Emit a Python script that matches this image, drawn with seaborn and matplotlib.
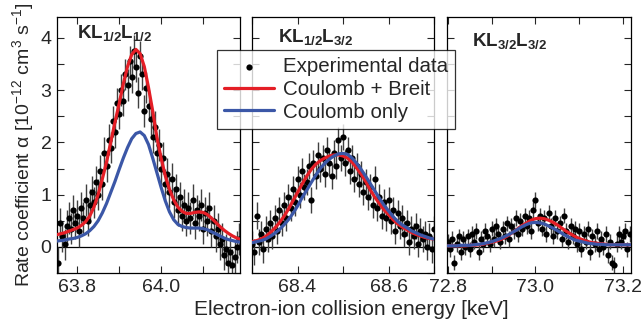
import numpy as np
import matplotlib
matplotlib.use("Agg")
import matplotlib.pyplot as plt
from matplotlib.ticker import MultipleLocator, FixedLocator
import seaborn as sns

# ---- theory curves (sampled every 0.01 keV) ----
p1_curve_e = np.round(np.arange(63.75, 64.195, 0.01), 3)
p1_breit = [0.23, 0.25, 0.27, 0.30, 0.33, 0.36, 0.41, 0.48, 0.59, 0.76,
            1.00, 1.30, 1.62, 2.00, 2.38, 2.74, 3.12, 3.45, 3.68, 3.78,
            3.70, 3.45, 3.05, 2.60, 2.10, 1.70, 1.36, 1.10, 0.90, 0.76,
            0.68, 0.64, 0.64, 0.66, 0.67, 0.66, 0.62, 0.55, 0.47, 0.39,
            0.32, 0.26, 0.21, 0.17, 0.14]
p1_coul = [0.11, 0.12, 0.13, 0.15, 0.16, 0.18, 0.21, 0.25, 0.31, 0.39,
           0.50, 0.65, 0.83, 1.04, 1.25, 1.48, 1.70, 1.90, 2.07, 2.17,
           2.20, 2.13, 1.96, 1.70, 1.42, 1.14, 0.88, 0.67, 0.52, 0.43,
           0.39, 0.37, 0.36, 0.36, 0.36, 0.35, 0.33, 0.29, 0.25, 0.21,
           0.17, 0.14, 0.12, 0.10, 0.09]

p2_curve_e = np.round(np.arange(68.30, 68.705, 0.01), 3)
p2_breit = [0.10, 0.12, 0.15, 0.20, 0.27, 0.36, 0.46, 0.58, 0.72, 0.88,
            1.04, 1.20, 1.35, 1.48, 1.58, 1.65, 1.70, 1.74, 1.76, 1.76,
            1.74, 1.70, 1.62, 1.51, 1.39, 1.25, 1.09, 0.95, 0.83, 0.71,
            0.62, 0.52, 0.44, 0.38, 0.33, 0.28, 0.24, 0.21, 0.18, 0.16,
            0.15]
p2_coul = [0.08, 0.10, 0.12, 0.15, 0.20, 0.26, 0.33, 0.42, 0.52, 0.64,
           0.78, 0.94, 1.08, 1.23, 1.37, 1.50, 1.60, 1.68, 1.74, 1.78,
           1.79, 1.77, 1.70, 1.60, 1.48, 1.35, 1.21, 1.07, 0.93, 0.80,
           0.69, 0.58, 0.49, 0.42, 0.37, 0.31, 0.27, 0.23, 0.20, 0.17,
           0.15]

p3_curve_e = np.round(np.arange(72.80, 73.225, 0.01), 3)
p3_breit = [0.02, 0.02, 0.02, 0.02, 0.02, 0.03, 0.03, 0.04, 0.05, 0.07,
            0.09, 0.11, 0.14, 0.18, 0.23, 0.29, 0.35, 0.41, 0.46, 0.51,
            0.54, 0.55, 0.54, 0.51, 0.47, 0.42, 0.36, 0.30, 0.25, 0.20,
            0.16, 0.13, 0.10, 0.08, 0.07, 0.06, 0.05, 0.04, 0.04, 0.04,
            0.04, 0.04, 0.04]
p3_coul = [0.02, 0.02, 0.02, 0.03, 0.03, 0.03, 0.04, 0.05, 0.06, 0.08,
           0.10, 0.13, 0.16, 0.20, 0.24, 0.29, 0.34, 0.39, 0.43, 0.46,
           0.47, 0.46, 0.44, 0.40, 0.36, 0.31, 0.26, 0.21, 0.17, 0.13,
           0.11, 0.09, 0.07, 0.06, 0.05, 0.05, 0.04, 0.04, 0.04, 0.04,
           0.04, 0.04, 0.04]

# ---- experimental points (scan step 0.005 keV) ----
p1_exp_e = np.round(np.arange(63.755, 64.1875, 0.005), 3)
p1_exp = [-0.30, 0.45, 0.20, 0.05, 0.40, 0.55, 0.35, 0.70, 0.45, 0.60,
          0.30, 0.75, 0.55, 0.90, 0.50, 0.80, 1.05, 0.85, 1.25, 1.00,
          1.45, 1.20, 1.80, 1.55, 2.05, 1.90, 2.40, 2.20, 2.75, 2.55,
          3.00, 2.80, 3.30, 3.10, 3.55, 3.25, 3.75, 3.45, 2.95, 3.65,
          3.30, 2.60, 3.05, 2.70, 2.45, 2.10, 2.30, 1.80, 1.95, 1.50,
          1.70, 1.20, 1.40, 1.05, 1.30, 0.85, 1.10, 0.70, 0.95, 0.60,
          0.80, 0.50, 0.75, 0.55, 0.90, 0.45, 0.70, 0.60, 0.80, 0.35,
          0.65, 0.50, 0.75, 0.30, 0.50, 0.20, 0.35, 0.05, 0.15, -0.15,
          -0.05, -0.30, -0.10, -0.35, -0.20, 0.00, 0.15]
p1_err = 0.3

p2_exp_e = np.round(np.arange(68.30, 68.7025, 0.005), 3)
p2_exp = [0.05, -0.10, 0.60, 0.10, 0.25, -0.05, 0.35, 0.15, 0.45, 0.20,
          0.55, 0.30, 0.70, 0.45, 0.80, 0.55, 0.95, 0.75, 1.10, 0.85,
          1.30, 1.00, 1.45, 1.15, 1.25, 1.55, 0.90, 1.60, 1.35, 1.75,
          1.50, 1.70, 1.40, 1.85, 1.60, 1.35, 1.80, 1.55, 2.05, 1.70,
          2.10, 1.60, 1.85, 1.45, 1.70, 1.30, 1.55, 1.20, 1.40, 1.05,
          1.25, 0.95, 1.15, 0.80, 1.30, 0.75, 0.95, 0.60, 0.85, 0.55,
          0.90, 0.50, 0.70, 0.30, 0.65, 0.40, 0.55, 0.25, 0.45, 0.10,
          0.35, 0.20, 0.40, 0.05, 0.30, 0.15, 0.25, 0.00, 0.20, -0.05,
          0.35]
p2_err = 0.25

p3_exp_e = np.round(np.arange(72.80, 73.2175, 0.005), 3)
p3_exp = [0.10, -0.05, 0.15, -0.30, 0.05, 0.20, -0.10, 0.15, 0.00, 0.20,
          -0.05, 0.25, 0.10, 0.30, -0.10, 0.15, 0.05, 0.30, 0.20, 0.05,
          0.35, 0.15, 0.40, 0.25, 0.10, 0.35, 0.20, 0.45, 0.15, 0.40,
          0.30, 0.55, 0.25, 0.50, 0.35, 0.60, 0.40, 0.55, 0.30, 0.70,
          0.90, 0.45, 0.60, 0.35, 0.55, 0.25, 0.65, 0.40, 0.20, 0.55,
          0.30, 0.45, 0.15, 0.60, 0.30, 0.10, 0.40, 0.20, 0.35, 0.05,
          0.30, -0.05, 0.25, 0.10, 0.35, -0.10, 0.20, 0.05, 0.30, -0.05,
          0.15, 0.00, 0.25, -0.15, 0.10, -0.30, -0.35, 0.05, 0.25, 0.10,
          0.20, 0.30, -0.05, 0.25]
p3_err = 0.15

panel_labels = [r"$\mathbf{KL_{1/2}L_{1/2}}$", r"$\mathbf{KL_{1/2}L_{3/2}}$",
                r"$\mathbf{KL_{3/2}L_{3/2}}$"]

RED = "#e41e26"
BLUE = "#3b57a7"

sns.set_theme(style="ticks")
plt.rcParams["font.family"] = ["Liberation Sans", "DejaVu Sans"]
plt.rcParams["mathtext.fontset"] = "custom"
plt.rcParams["mathtext.rm"] = "Liberation Sans"
plt.rcParams["mathtext.bf"] = "Liberation Sans:bold"
plt.rcParams["mathtext.it"] = "Liberation Sans:italic"

fig = plt.figure(figsize=(6.43, 3.29), dpi=100)
bottom, height = 0.1702, 0.7781
lefts = [0.0886, 0.3919, 0.6952]
widths = [0.2847, 0.2831, 0.2861]
xlims = [(63.752, 64.188), (68.30, 68.70), (72.798, 73.218)]
xticks = [[63.8, 64.0], [68.4, 68.6], [72.8, 73.0, 73.2]]
label_pos = [(0.11, 0.918), (0.145, 0.902), (0.138, 0.885)]

panels = [
    (p1_exp_e, p1_exp, p1_err, p1_curve_e, p1_breit, p1_coul),
    (p2_exp_e, p2_exp, p2_err, p2_curve_e, p2_breit, p2_coul),
    (p3_exp_e, p3_exp, p3_err, p3_curve_e, p3_breit, p3_coul),
]

axes = []
for i, (ee, yy, err, ce, br, co) in enumerate(panels):
    ax = fig.add_axes([lefts[i], bottom, widths[i], height])
    axes.append(ax)
    ax.axhline(0, color="black", lw=0.9, zorder=1)
    ax.errorbar(ee, yy, yerr=err, fmt="none", ecolor="0.25", elinewidth=1.0,
                capsize=0, zorder=2)
    sns.scatterplot(x=ee, y=yy, ax=ax, color="black", s=20, linewidth=0,
                    zorder=3, label="Experimental data" if i == 0 else None,
                    legend=False)
    sns.lineplot(x=ce, y=br, ax=ax, color=RED, lw=2.3, zorder=4,
                 label="Coulomb + Breit" if i == 0 else None, legend=False)
    sns.lineplot(x=ce, y=co, ax=ax, color=BLUE, lw=2.3, zorder=5,
                 label="Coulomb only" if i == 0 else None, legend=False)
    ax.set_xlim(*xlims[i])
    ax.set_ylim(-0.5, 4.4)
    ax.xaxis.set_major_locator(FixedLocator(xticks[i]))
    ax.xaxis.set_minor_locator(MultipleLocator(0.1))
    ax.yaxis.set_major_locator(MultipleLocator(1))
    ax.yaxis.set_minor_locator(MultipleLocator(0.5))
    ax.set_xticklabels([f"{t:.1f}" for t in xticks[i]])
    ax.tick_params(which="both", direction="in", top=True, right=True,
                   length=5, width=0.8, labelsize=14, pad=4)
    if i > 0:
        ax.tick_params(labelleft=False)
    ax.set_xlabel("")
    ax.set_ylabel("")
    for sp in ax.spines.values():
        sp.set_linewidth(0.9)
        sp.set_color("black")
    ax.text(*label_pos[i], panel_labels[i], transform=ax.transAxes,
            fontsize=13.5, va="baseline", ha="left")

axes[0].set_ylabel(r"Rate coefficient α [10$^{-12}$ cm$^{3}$ s$^{-1}$]",
                   fontsize=14, labelpad=3)
fig.text(0.546, 0.058, "Electron-ion collision energy [keV]", fontsize=15,
         ha="center", va="center")

h, l = axes[0].get_legend_handles_labels()
leg = fig.legend(h, l, loc="upper left", bbox_to_anchor=(0.3375, 0.848),
                 fontsize=14.8, frameon=True, fancybox=False, edgecolor="black",
                 handlelength=2.4, handletextpad=0.45, labelspacing=0.18,
                 borderpad=0.35, borderaxespad=0, markerscale=1.0)
leg.get_frame().set_linewidth(0.9)
leg.set_zorder(10)

fig.savefig("out.png", dpi=100)
